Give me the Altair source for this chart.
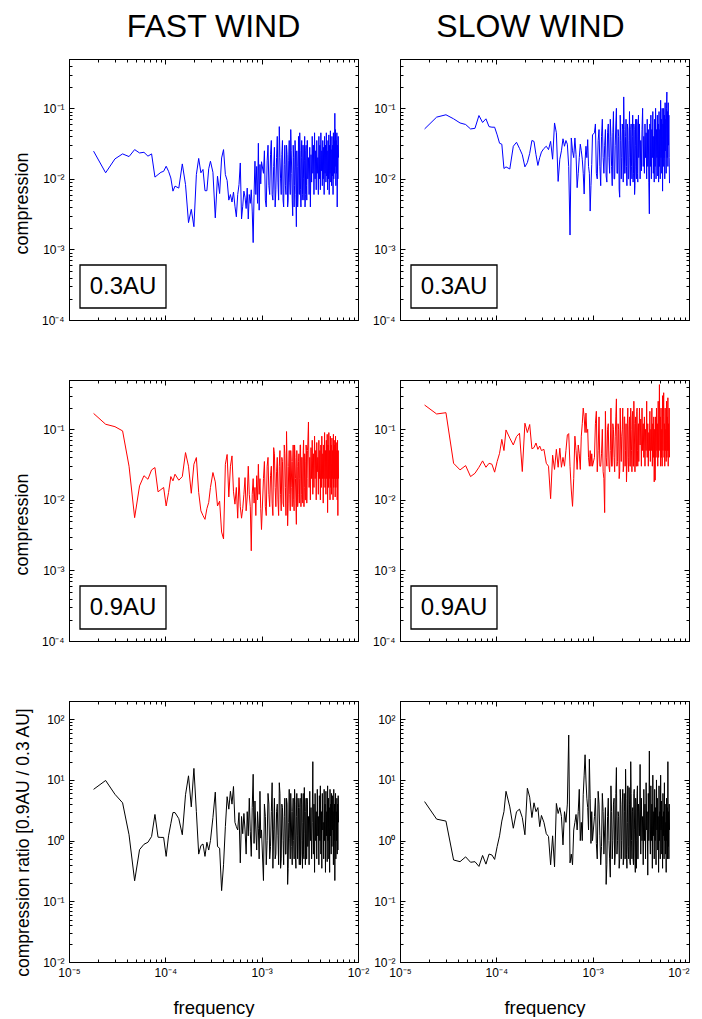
import altair as alt
import pandas as pd

FONT = "Liberation Sans"

# frequency grid (micro-Hz)
FREQ_UHZ = [18, 24, 30, 36, 42, 48, 54, 60, 66, 72, 78, 84, 90, 96, 102, 108, 114, 120,
            126, 138, 150, 162, 174, 186, 198, 210, 222, 234, 246, 258, 270, 282, 294,
            312, 330, 348, 366, 384, 402, 420, 438, 456, 474, 492, 510, 528, 546, 564, 582,
            600, 618, 636, 654, 672, 690, 708, 726, 744, 762, 780, 798, 816, 834, 852, 870,
            888, 906, 924, 942, 960, 978, 996,
            1044, 1092, 1140, 1188, 1236, 1284, 1332, 1380, 1428, 1476,
            1524, 1572, 1620, 1668, 1716, 1764, 1812, 1860, 1908, 1956,
            2004, 2052, 2100, 2148, 2196, 2244, 2292, 2340, 2388, 2436,
            2484, 2532, 2580, 2628, 2676, 2724, 2772, 2820, 2868, 2916,
            2964, 3012, 3060, 3108, 3156, 3204, 3252, 3300, 3348, 3396,
            3444, 3492, 3540, 3588, 3636, 3684, 3732, 3780, 3828, 3876,
            3924, 3972, 4020, 4068, 4116, 4164, 4212, 4260, 4308, 4356,
            4404, 4452, 4500, 4548, 4596, 4644, 4692, 4740, 4788, 4836,
            4884, 4932, 4980, 5028, 5076, 5124, 5172, 5220, 5268, 5316,
            5364, 5412, 5460, 5508, 5556, 5604, 5652, 5700, 5748, 5796,
            5844, 5892, 5940, 5988, 6036, 6084, 6132, 6180, 6228, 6276]

# extra in-between frequencies of the dense 1-3 mHz band (micro-Hz)
FREQ_EXTRA_UHZ = [1068, 1116, 1164, 1212, 1260, 1308, 1356, 1404, 1452, 1500,
                  1548, 1596, 1644, 1692, 1740, 1788, 1836, 1884, 1932, 1980,
                  2028, 2076, 2124, 2172, 2220, 2268, 2316, 2364, 2412, 2460,
                  2508, 2556, 2604, 2652, 2700, 2748, 2796, 2844, 2892, 2940,
                  2988]

FAST_03 = [0.0247, 0.0122, 0.0192, 0.0226, 0.0207, 0.026, 0.0233, 0.0238, 0.021, 0.0226, 0.0106, 0.0115, 0.0124, 0.0128, 0.0151, 0.0128, 0.0103, 0.0067,
           0.0079, 0.0074, 0.0163, 0.0083, 0.0024, 0.0037, 0.0021, 0.0115, 0.0195, 0.0122, 0.0136, 0.0068, 0.0068, 0.0139, 0.0178,
           0.0124, 0.0028, 0.0109, 0.0062, 0.0198, 0.026, 0.0115, 0.0095, 0.0050, 0.0060, 0.0047, 0.0065, 0.0041, 0.0029, 0.0060, 0.0083,
           0.0168, 0.0027, 0.0041, 0.0067, 0.0055, 0.0038, 0.0074, 0.0027, 0.0060, 0.0045, 0.0070, 0.0035, 0.00125, 0.0060, 0.0178, 0.0060,
           0.0150, 0.0045, 0.032, 0.0036, 0.016, 0.0085, 0.0175,
           0.012, 0.005, 0.018, 0.008, 0.022, 0.006, 0.015, 0.004, 0.02, 0.009,
           0.055, 0.01, 0.022, 0.005, 0.016, 0.008, 0.03, 0.004, 0.018, 0.009,
           0.05, 0.012, 0.003, 0.02, 0.008, 0.025, 0.0021, 0.015, 0.006, 0.028,
           0.045, 0.007, 0.02, 0.005, 0.03, 0.01, 0.018, 0.004, 0.025, 0.008,
           0.035, 0.01, 0.02, 0.006, 0.028, 0.004, 0.022, 0.009, 0.04, 0.012,
           0.03, 0.006, 0.045, 0.01, 0.025, 0.007, 0.035, 0.012, 0.02, 0.006,
           0.04, 0.01, 0.03, 0.007, 0.045, 0.013, 0.025, 0.008, 0.035, 0.01,
           0.028, 0.006, 0.04, 0.012, 0.03, 0.009, 0.045, 0.011, 0.025, 0.007,
           0.035, 0.01, 0.042, 0.006, 0.03, 0.012, 0.048, 0.009, 0.026, 0.008,
           0.04, 0.011, 0.03, 0.006, 0.045, 0.01, 0.035, 0.012, 0.085, 0.015,
           0.05, 0.008, 0.035, 0.012, 0.045, 0.004, 0.03, 0.01, 0.04, 0.02]
FAST_03_EXTRA = [0.025, 0.004, 0.03, 0.006, 0.035, 0.005, 0.028, 0.007, 0.04, 0.005,
                 0.02, 0.006, 0.035, 0.004, 0.03, 0.006, 0.022, 0.005, 0.035, 0.006,
                 0.025, 0.005, 0.03, 0.004, 0.035, 0.006, 0.025, 0.004, 0.04, 0.006,
                 0.025, 0.004, 0.035, 0.006, 0.03, 0.005, 0.04, 0.006, 0.03, 0.005,
                 0.035]

SLOW_03 = [0.051, 0.075, 0.081, 0.071, 0.062, 0.059, 0.051, 0.052, 0.079, 0.063, 0.071, 0.055, 0.054, 0.054, 0.042, 0.032, 0.031, 0.014,
           0.0148, 0.0138, 0.029, 0.033, 0.027, 0.022, 0.0148, 0.017, 0.023, 0.035, 0.034, 0.022, 0.0155, 0.020, 0.024,
           0.027, 0.029, 0.026, 0.034, 0.019, 0.062, 0.045, 0.0092, 0.019, 0.025, 0.037, 0.029, 0.035, 0.031, 0.015, 0.0016,
           0.038, 0.025, 0.020, 0.038, 0.022, 0.0075, 0.012, 0.02, 0.031, 0.025, 0.019, 0.012, 0.0061, 0.018, 0.029, 0.02,
           0.036, 0.015, 0.012, 0.0035, 0.008, 0.016, 0.042,
           0.045, 0.012, 0.035, 0.015, 0.04, 0.02, 0.03, 0.011, 0.045, 0.02,
           0.07, 0.015, 0.045, 0.01, 0.03, 0.1, 0.012, 0.04, 0.0055, 0.035,
           0.02, 0.05, 0.145, 0.012, 0.04, 0.015, 0.06, 0.01, 0.035, 0.02,
           0.05, 0.015, 0.04, 0.009, 0.06, 0.006, 0.03, 0.015, 0.07, 0.012,
           0.04, 0.02, 0.06, 0.01, 0.035, 0.013, 0.05, 0.1, 0.015, 0.04,
           0.012, 0.06, 0.02, 0.045, 0.01, 0.07, 0.015, 0.05, 0.009, 0.0032,
           0.06, 0.015, 0.08, 0.01, 0.05, 0.02, 0.09, 0.012, 0.04, 0.009,
           0.07, 0.015, 0.1, 0.01, 0.05, 0.02, 0.08, 0.011, 0.06, 0.009,
           0.09, 0.015, 0.05, 0.01, 0.13, 0.02, 0.07, 0.012, 0.1, 0.0067,
           0.06, 0.015, 0.1, 0.02, 0.08, 0.01, 0.12, 0.025, 0.07, 0.012,
           0.1, 0.17, 0.02, 0.09, 0.015, 0.12, 0.03, 0.08, 0.02, 0.0087]
SLOW_03_EXTRA = [0.06, 0.01, 0.05, 0.008, 0.07, 0.012, 0.05, 0.009, 0.06, 0.012,
                 0.04, 0.008, 0.09, 0.01, 0.06, 0.012, 0.05, 0.007, 0.08, 0.01,
                 0.06, 0.009, 0.05, 0.012, 0.07, 0.008, 0.05, 0.01, 0.09, 0.008,
                 0.06, 0.01, 0.08, 0.012, 0.05, 0.008, 0.07, 0.01, 0.06, 0.009,
                 0.08]

FAST_09 = [0.168, 0.118, 0.109, 0.095, 0.030, 0.0056, 0.0158, 0.022, 0.0196, 0.0266, 0.0287, 0.013, 0.014, 0.015, 0.0082, 0.0127, 0.0214, 0.0186,
           0.0231, 0.019, 0.0214, 0.0468, 0.030, 0.0124, 0.032, 0.0398, 0.0127, 0.007, 0.006, 0.0053, 0.0075, 0.0092, 0.015,
           0.0244, 0.018, 0.0082, 0.0096, 0.0035, 0.0028, 0.032, 0.044, 0.011, 0.03, 0.042, 0.013, 0.0087, 0.015, 0.0055, 0.0207,
           0.008, 0.0055, 0.0075, 0.012, 0.0207, 0.007, 0.011, 0.030, 0.012, 0.008, 0.0019, 0.012, 0.02, 0.009, 0.015, 0.006,
           0.022, 0.01, 0.032, 0.012, 0.02, 0.0075, 0.0038,
           0.02, 0.008, 0.03, 0.012, 0.022, 0.009, 0.055, 0.015, 0.025, 0.01,
           0.03, 0.012, 0.04, 0.009, 0.06, 0.015, 0.093, 0.0043, 0.03, 0.012,
           0.05, 0.015, 0.035, 0.01, 0.06, 0.02, 0.0045, 0.03, 0.012, 0.045,
           0.02, 0.06, 0.012, 0.04, 0.009, 0.07, 0.015, 0.035, 0.01, 0.05,
           0.02, 0.06, 0.127, 0.015, 0.04, 0.01, 0.055, 0.02, 0.07, 0.012,
           0.045, 0.015, 0.08, 0.02, 0.05, 0.01, 0.065, 0.025, 0.04, 0.012,
           0.07, 0.02, 0.05, 0.01, 0.06, 0.015, 0.08, 0.02, 0.045, 0.009,
           0.06, 0.02, 0.09, 0.015, 0.05, 0.012, 0.07, 0.02, 0.085, 0.0066,
           0.06, 0.015, 0.09, 0.02, 0.05, 0.01, 0.08, 0.015, 0.06, 0.012,
           0.075, 0.02, 0.05, 0.01, 0.085, 0.015, 0.06, 0.02, 0.07, 0.011,
           0.08, 0.015, 0.05, 0.02, 0.065, 0.01, 0.07, 0.006, 0.05, 0.02]
FAST_09_EXTRA = [0.035, 0.006, 0.04, 0.008, 0.03, 0.006, 0.045, 0.008, 0.04, 0.006,
                 0.05, 0.007, 0.035, 0.008, 0.045, 0.006, 0.03, 0.009, 0.05, 0.007,
                 0.035, 0.008, 0.06, 0.007, 0.04, 0.009, 0.05, 0.008, 0.035, 0.009,
                 0.06, 0.008, 0.04, 0.01, 0.05, 0.008, 0.045, 0.01, 0.06, 0.009,
                 0.05]

SLOW_09 = [0.221, 0.165, 0.172, 0.033, 0.0266, 0.0306, 0.0214, 0.0238, 0.029, 0.0357, 0.029, 0.033, 0.032, 0.0247, 0.035, 0.0457, 0.072, 0.05,
           0.098, 0.075, 0.06, 0.079, 0.088, 0.0252, 0.122, 0.09, 0.117, 0.053, 0.055, 0.064, 0.052, 0.058, 0.05,
           0.052, 0.033, 0.03, 0.0104, 0.043, 0.027, 0.052, 0.029, 0.054, 0.029, 0.04, 0.03, 0.05, 0.083, 0.087, 0.03,
           0.0138, 0.0081, 0.02, 0.08, 0.05, 0.027, 0.06, 0.045, 0.027, 0.08, 0.12, 0.2, 0.15, 0.09, 0.17, 0.09,
           0.1, 0.04, 0.03, 0.05, 0.03, 0.045, 0.03,
           0.04, 0.18, 0.05, 0.03, 0.045, 0.025, 0.0066, 0.04, 0.1, 0.03,
           0.05, 0.03, 0.12, 0.04, 0.08, 0.27, 0.035, 0.1, 0.025, 0.06,
           0.08, 0.2, 0.03, 0.15, 0.05, 0.018, 0.12, 0.04, 0.1, 0.03,
           0.2, 0.05, 0.15, 0.03, 0.25, 0.06, 0.12, 0.03, 0.18, 0.05,
           0.1, 0.035, 0.2, 0.06, 0.14, 0.03, 0.2, 0.05, 0.12, 0.04,
           0.15, 0.03, 0.1, 0.05, 0.25, 0.04, 0.12, 0.03, 0.09, 0.05,
           0.18, 0.035, 0.1, 0.05, 0.2, 0.03, 0.12, 0.04, 0.15, 0.018,
           0.1, 0.019, 0.15, 0.04, 0.2, 0.05, 0.12, 0.03, 0.25, 0.04,
           0.1, 0.43, 0.05, 0.15, 0.03, 0.2, 0.04, 0.1, 0.03, 0.3,
           0.05, 0.15, 0.33, 0.04, 0.12, 0.03, 0.2, 0.05, 0.1, 0.035,
           0.25, 0.04, 0.15, 0.05, 0.28, 0.03, 0.12, 0.05, 0.2, 0.04]
SLOW_09_EXTRA = [0.12, 0.025, 0.15, 0.03, 0.1, 0.02, 0.18, 0.03, 0.12, 0.025,
                 0.2, 0.03, 0.1, 0.025, 0.15, 0.03, 0.12, 0.02, 0.2, 0.035,
                 0.1, 0.025, 0.15, 0.03, 0.12, 0.03, 0.2, 0.025, 0.15, 0.03,
                 0.1, 0.025, 0.18, 0.03, 0.12, 0.025, 0.15, 0.03, 0.2, 0.03,
                 0.12]

FAST_RATIO = [7.0, 9.8, 5.8, 4.2, 1.25, 0.218, 0.71, 0.87, 0.94, 1.17, 2.7, 1.14, 1.13, 1.13, 0.55, 1.2, 1.9, 2.9,
              2.9, 2.3, 1.25, 5.7, 11.7, 3.6, 15.5, 3.0, 0.6, 0.83, 0.88, 0.55, 0.94, 0.7, 1.0,
              2.4, 6.3, 0.8, 0.75, 0.15, 0.4, 1.7, 5.3, 3.3, 6.5, 4.0, 7.8, 2.0, 1.7, 1.5, 2.9,
              0.43, 2.5, 1.3, 2.8, 1.5, 0.6, 3.0, 1.2, 5.0, 1.4, 0.55, 3.5, 12.4, 0.9, 4.5, 1.5,
              0.7, 3.0, 1.6, 0.5, 6.5, 1.1, 1.5,
              0.22, 2.5, 1.0, 4.0, 0.8, 9.0, 1.5, 0.5, 3.0, 1.2,
              9.0, 0.35, 4.0, 1.0, 2.5, 0.6, 5.0, 0.19, 2.0, 1.1,
              6.0, 0.8, 3.0, 1.0, 7.0, 0.5, 2.5, 1.2, 5.0, 0.7,
              3.5, 0.4, 6.0, 1.0, 2.0, 0.6, 7.5, 1.3, 3.0, 0.5,
              5.0, 0.8, 2.5, 0.4, 6.5, 1.0, 3.5, 0.5, 2.0, 20.0,
              0.6, 4.0, 0.3, 6.0, 1.0, 3.0, 0.5, 7.0, 1.2, 2.5,
              0.4, 5.5, 1.0, 8.0, 0.6, 3.0, 0.35, 6.0, 1.5, 2.0,
              0.5, 7.0, 1.0, 4.0, 0.3, 6.5, 1.2, 3.0, 0.45, 8.0,
              1.0, 5.0, 0.5, 3.5, 0.3, 7.0, 1.2, 4.0, 0.6, 6.0,
              0.8, 5.5, 1.5, 3.0, 0.4, 7.0, 1.0, 4.0, 0.22, 2.5,
              6.0, 0.5, 3.0, 1.0, 5.0, 0.6, 4.0, 0.7, 5.5, 2.0]
FAST_RATIO_EXTRA = [4.0, 0.4, 6.0, 0.5, 3.0, 0.35, 5.0, 0.6, 4.0, 0.4,
                    6.0, 0.5, 3.5, 0.4, 5.0, 0.6, 4.0, 0.35, 7.0, 0.5,
                    3.0, 0.4, 5.0, 0.5, 4.0, 0.35, 6.0, 0.5, 3.5, 0.4,
                    5.0, 0.6, 4.0, 0.35, 6.0, 0.5, 3.0, 0.4, 5.0, 0.5,
                    4.0]

SLOW_RATIO = [4.4, 2.26, 2.1, 0.48, 0.45, 0.54, 0.44, 0.45, 0.376, 0.57, 0.41, 0.6, 0.58, 0.49, 0.8, 1.2, 2.1, 3.0,
              6.5, 3.6, 1.6, 3.0, 3.3, 2.4, 1.25, 7.3, 5.2, 2.4, 4.2, 3.0, 3.5, 1.7, 2.6,
              2.0, 1.3, 1.17, 0.4, 1.2, 0.37, 4.1, 2.8, 3.5, 2.5, 0.85, 3.0, 2.0, 4.0, 55.0, 0.43,
              0.6, 0.4, 1.5, 2.0, 2.7, 1.5, 3.0, 7.0, 1.0, 2.0, 1.0, 5.7, 12.0, 26.0, 10.0, 5.0,
              3.5, 1.5, 22.0, 5.0, 0.9, 3.0, 1.0,
              2.5, 0.9, 6.5, 1.2, 0.8, 3.0, 1.5, 0.19, 2.5, 1.0,
              0.25, 3.0, 1.0, 5.0, 0.6, 16.0, 1.0, 2.5, 0.5, 4.0,
              1.0, 7.0, 0.5, 3.0, 15.0, 0.6, 2.0, 0.8, 7.5, 0.45,
              20.0, 1.0, 3.0, 0.5, 6.0, 1.5, 0.3, 4.0, 1.0, 8.0,
              0.5, 3.0, 1.2, 18.0, 0.6, 5.0, 1.0, 2.5, 0.4, 7.0,
              1.0, 4.0, 0.5, 9.0, 1.5, 3.0, 0.27, 6.0, 1.0, 30.0,
              1.5, 0.6, 8.0, 1.0, 4.0, 0.35, 12.0, 1.2, 3.0, 0.5,
              7.0, 1.0, 3.5, 0.4, 10.0, 1.5, 5.0, 0.7, 2.5, 0.3,
              8.0, 1.0, 3.0, 0.5, 12.0, 1.5, 4.5, 0.6, 2.5, 0.35,
              6.0, 1.2, 3.0, 0.5, 9.0, 1.0, 4.0, 0.6, 2.0, 0.3,
              5.0, 1.0, 3.5, 0.5, 20.0, 0.8, 3.0, 0.5, 4.0, 1.5]
SLOW_RATIO_EXTRA = [5.0, 0.5, 4.0, 0.4, 6.0, 0.6, 3.5, 0.4, 5.0, 0.5,
                    8.0, 0.5, 4.0, 0.4, 6.0, 0.6, 3.0, 0.35, 7.0, 0.5,
                    4.0, 0.4, 6.0, 0.5, 5.0, 0.35, 8.0, 0.5, 4.0, 0.4,
                    6.0, 0.5, 3.5, 0.4, 7.0, 0.5, 5.0, 0.35, 6.0, 0.5,
                    4.0]

COL_TITLES = ["FAST WIND", "SLOW WIND"]
DIST_LABELS = ["0.3AU", "0.9AU"]
Y_TITLES = ["compression", "compression ratio [0.9AU / 0.3 AU]"]
X_TITLE = "frequency"

X_DOMAIN = [1e-5, 1e-2]
Y_DOMAIN_COMP = [1e-4, 0.5]
Y_DOMAIN_RATIO = [1e-2, 200]


def log_ticks(lo_exp, hi_exp, top):
    vals = []
    for e in range(lo_exp, hi_exp + 1):
        for m in range(1, 10):
            v = round(m * 10.0 ** e, 12)
            if v <= top * 1.0000001:
                vals.append(v)
    return vals


X_TICKS = log_ticks(-5, -2, 1e-2)
Y_TICKS_COMP = log_ticks(-4, -1, 0.5)
Y_TICKS_RATIO = log_ticks(-2, 2, 200)

E = "round(log(datum.value)/LN10)"
MAJOR = f"abs(datum.value/pow(10,{E})-1)<0.001"
LABEL_EXPR = (f"({MAJOR}) ? '10' + ({E}<0 ? '\u207b' : '') + "
              f"substring('\u2070\u00b9\u00b2\u00b3\u2074\u2075\u2076\u2077\u2078\u2079', abs({E}), abs({E})+1) : ''")
TICK_SIZE = {"condition": {"test": MAJOR, "value": -5}, "value": -3}


def mk_axis(orient, values, labels=False, title=None, title_y=None, title_size=18,
            title_pad=10, last_right=False):
    kw = dict(orient=orient, values=values, labels=labels, ticks=True,
              tickSize=TICK_SIZE, tickColor="black", tickWidth=1,
              domain=True, domainColor="black", domainWidth=1, grid=False,
              labelFlush=False, labelOverlap=False)
    if labels:
        kw.update(labelExpr=LABEL_EXPR, labelFont=FONT, labelFontSize=12,
                  labelColor="black", labelPadding=10)
        if last_right:
            kw["labelAlign"] = {"condition": {"test": "datum.value > 0.005", "value": "right"},
                                "value": "center"}
    else:
        kw.update(minExtent=0, maxExtent=0)
    if title:
        kw.update(title=title, titleFont=FONT, titleFontSize=title_size,
                  titleFontWeight="normal", titleColor="black", titlePadding=title_pad)
        if title_y is not None:
            kw["titleY"] = title_y
    else:
        kw["title"] = None
    return alt.Axis(**kw)


def panel(vals, extra, color, ydom, yticks, ytitle=None, ytitle_y=None, ytitle_size=18,
          xlabels=False, col_title=None, title_dx=0, label=None, last_right=False):
    df = pd.DataFrame({"f": [u * 1e-6 for u in FREQ_UHZ + FREQ_EXTRA_UHZ],
                       "v": vals + extra}).sort_values("f").reset_index(drop=True)
    xs = alt.Scale(type="log", domain=X_DOMAIN, nice=False)
    ys = alt.Scale(type="log", domain=ydom, nice=False)
    xb = mk_axis("bottom", X_TICKS, labels=xlabels, title=X_TITLE if xlabels else None,
                 title_size=18.5, title_pad=18, last_right=last_right)
    yl = mk_axis("left", yticks, labels=True, title=ytitle, title_y=ytitle_y,
                 title_size=ytitle_size, title_pad=10)
    xt = mk_axis("top", X_TICKS)
    yr = mk_axis("right", yticks)
    line = alt.Chart(df).mark_line(color=color, strokeWidth=1).encode(
        x=alt.X("f:Q", scale=xs, axis=xb),
        y=alt.Y("v:Q", scale=ys, axis=yl))
    mirror = alt.Chart(df).mark_line(opacity=0).encode(
        x=alt.X("f:Q", scale=xs, axis=xt),
        y=alt.Y("v:Q", scale=ys, axis=yr))
    layers = [line, mirror]
    if label:
        ldf = pd.DataFrame({"t": [label]})
        box = alt.Chart(ldf).mark_rect(fill="white", stroke="black", strokeWidth=1.3).encode(
            x=alt.value(11), x2=alt.value(97), y=alt.value(206), y2=alt.value(249))
        txt = alt.Chart(ldf).mark_text(font=FONT, fontSize=24, color="black",
                                       align="center", baseline="middle").encode(
            x=alt.value(54), y=alt.value(228), text="t:N")
        layers += [box, txt]
    ch = alt.layer(*layers).resolve_axis(x="independent", y="independent").properties(
        width=289, height=261)
    if col_title:
        ch = ch.properties(title=alt.TitleParams(col_title, fontSize=32, font=FONT,
                                                 fontWeight="normal", color="black",
                                                 anchor="middle", baseline="alphabetic",
                                                 offset=25, dx=title_dx, dy=41))
    return ch


p1 = panel(FAST_03, FAST_03_EXTRA, "#0000ff", Y_DOMAIN_COMP, Y_TICKS_COMP,
           ytitle=Y_TITLES[0], ytitle_y=144, col_title=COL_TITLES[0], label=DIST_LABELS[0])
p2 = panel(SLOW_03, SLOW_03_EXTRA, "#0000ff", Y_DOMAIN_COMP, Y_TICKS_COMP,
           col_title=COL_TITLES[1], title_dx=-14, label=DIST_LABELS[0])
p3 = panel(FAST_09, FAST_09_EXTRA, "#ff0000", Y_DOMAIN_COMP, Y_TICKS_COMP,
           ytitle=Y_TITLES[0], ytitle_y=144, label=DIST_LABELS[1])
p4 = panel(SLOW_09, SLOW_09_EXTRA, "#ff0000", Y_DOMAIN_COMP, Y_TICKS_COMP, label=DIST_LABELS[1])
p5 = panel(FAST_RATIO, FAST_RATIO_EXTRA, "#000000", Y_DOMAIN_RATIO, Y_TICKS_RATIO,
           ytitle=Y_TITLES[1], ytitle_y=141, ytitle_size=17.5, xlabels=True)
p6 = panel(SLOW_RATIO, SLOW_RATIO_EXTRA, "#000000", Y_DOMAIN_RATIO, Y_TICKS_RATIO,
           xlabels=True, last_right=True)

chart = alt.concat(p1, p2, p3, p4, p5, p6, columns=2,
                   spacing={"row": 60, "column": 42}, bounds="flush").properties(
    padding={"left": 4, "top": 2, "right": 0, "bottom": 0},
    background="white"
).configure_view(stroke="black", strokeWidth=1, fill="white")

chart.save("out.html", embed_options={"renderer": "svg", "actions": False})
